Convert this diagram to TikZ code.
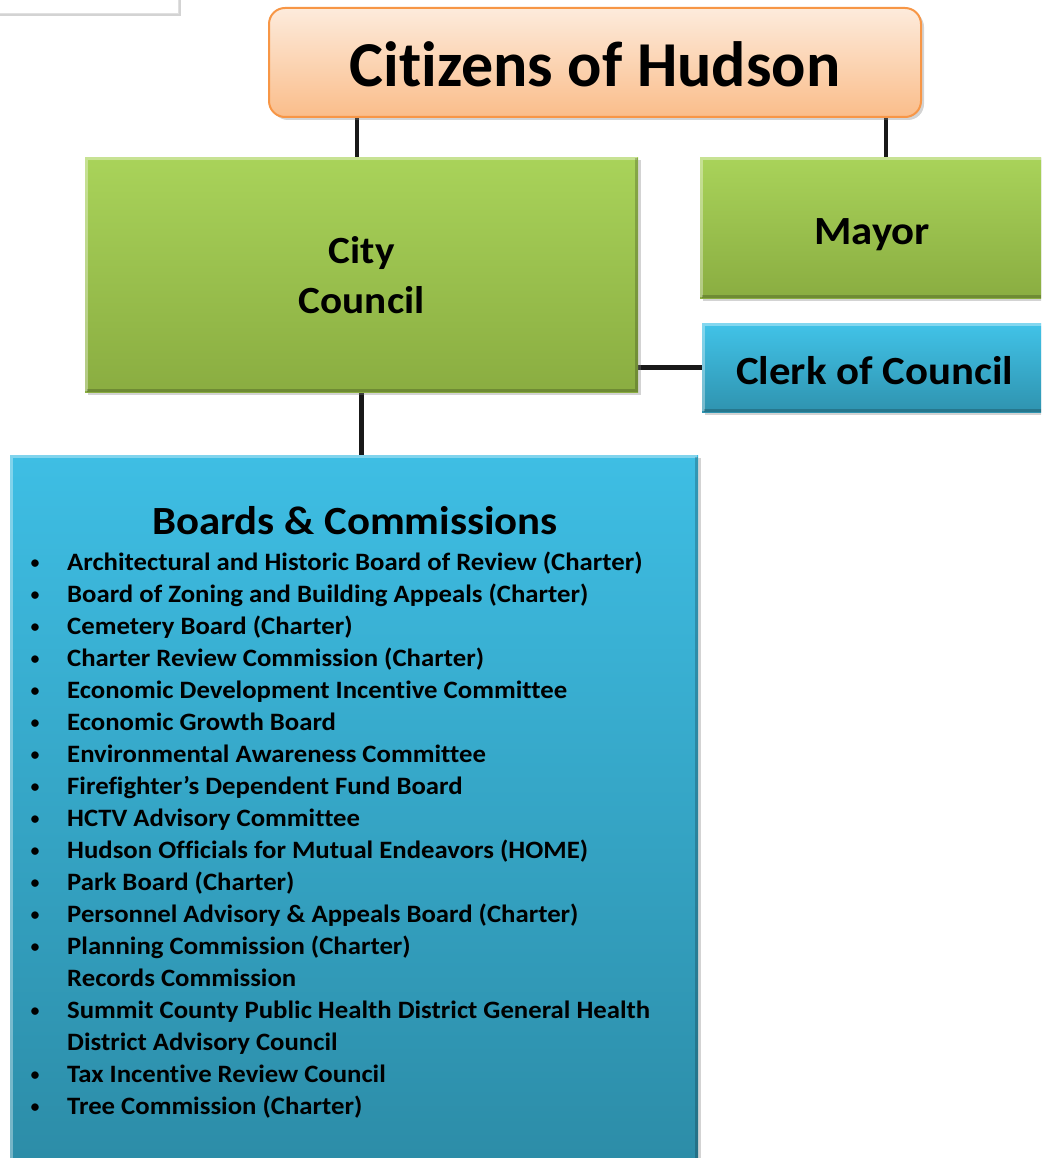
\documentclass[tikz,border=0pt]{standalone}
\usepackage{fontspec}
\setmainfont{Carlito}[Ligatures=NoCommon]
\newfontfamily\widefont{Carlito}[FakeStretch=1.07, Ligatures=NoCommon]
\usetikzlibrary{shadows, backgrounds}
\definecolor{orangetop}{HTML}{FDEBDC}
\definecolor{orangebot}{HTML}{FABD8A}
\definecolor{orangeline}{HTML}{F79646}
\definecolor{greentop}{HTML}{A9D35A}
\definecolor{greenbot}{HTML}{8AAD41}
\definecolor{bluetop}{HTML}{41C3E8}
\definecolor{bluebot}{HTML}{2F93AF}
\definecolor{boardtop}{HTML}{3EBEE4}
\definecolor{bluedeep}{HTML}{2C8CA7}

\tikzset{
  box/.style={rectangle, anchor=north west, inner sep=0pt, align=center,
    font=\bfseries, text=black,
    drop shadow={opacity=0.35, shadow xshift=3pt, shadow yshift=-3pt}},
  greenbox/.style={box, top color=greentop, bottom color=greenbot},
  bluebox/.style={box, top color=bluetop, bottom color=bluebot},
  link/.style={line width=4.5pt, black!90},
  item/.style={anchor=base west, inner sep=0pt, font=\widefont\fontsize{25}{30}\selectfont\bfseries},
  bulletmark/.style={anchor=base, inner sep=0pt, font=\fontsize{21}{25}\selectfont}
}

% light top/left edge and dark bottom/right edge on a box
\newcommand{\bevel}[1]{%
  \draw[white, opacity=0.35, line width=3pt]
    ([shift={(1.5pt,1.5pt)}]#1.south west) -- ([shift={(1.5pt,-1.5pt)}]#1.north west)
    -- ([shift={(-1.5pt,-1.5pt)}]#1.north east);
  \draw[black, opacity=0.2, line width=3pt]
    ([shift={(1.5pt,1.5pt)}]#1.south west) -- ([shift={(-1.5pt,1.5pt)}]#1.south east)
    -- ([shift={(-1.5pt,-1.5pt)}]#1.north east);
}

\begin{document}
\begin{tikzpicture}[x=1pt, y=-1pt]
  \useasboundingbox (0,0) rectangle (1041,1158);
  \clip (0,0) rectangle (1041,1158);

  % --- cut-off panel, top left ---
  \node[box, fill=white, draw=black!12, minimum width=198pt, minimum height=33pt] (panel) at (-20,-20) {};

  % --- top of the chart ---
  \node[box, rounded corners=16pt, draw=orangeline, line width=2pt,
        top color=orangetop, bottom color=orangebot,
        minimum width=652pt, minimum height=109pt, text height=49pt, text depth=0pt,
        font=\fontsize{64}{70}\selectfont\bfseries] (citizens) at (268,7) {Citizens of Hudson};

  % --- council and mayor ---
  \node[greenbox, minimum width=553pt, minimum height=235pt,
        font=\widefont\fontsize{38.5}{50}\selectfont\bfseries] (council) at (85,157) {City\\Council};
  \bevel{council}
  \node[greenbox, minimum width=344pt, minimum height=141pt, text height=33pt, text depth=0pt,
        font=\widefont\fontsize{40}{48}\selectfont\bfseries] (mayor) at (700,157) {Mayor};
  \bevel{mayor}
  \node[bluebox, minimum width=345pt, minimum height=89pt, text height=33pt, text depth=0pt,
        font=\widefont\fontsize{40}{48}\selectfont\bfseries] (clerk) at (702,323) {Clerk of Council};
  \bevel{clerk}

  % --- boards & commissions ---
  \node[box, top color=boardtop, bottom color=bluedeep,
        minimum width=688pt, minimum height=715pt] (boards) at (10,455) {};
  \bevel{boards}
  \node[font=\widefont\fontsize{40}{44}\selectfont\bfseries, inner sep=0pt] (bctitle) at (355,521) {Boards \& Commissions};

  \foreach \b/\txt [count=\i from 0] in {
      1/{Architectural and Historic Board of Review (Charter)},
      1/{Board of Zoning and Building Appeals (Charter)},
      1/{Cemetery Board (Charter)},
      1/{Charter Review Commission (Charter)},
      1/{Economic Development Incentive Committee},
      1/{Economic Growth Board},
      1/{Environmental Awareness Committee},
      1/{Firefighter’s Dependent Fund Board},
      1/{HCTV Advisory Committee},
      1/{Hudson Officials for Mutual Endeavors (HOME)},
      1/{Park Board (Charter)},
      1/{Personnel Advisory \& Appeals Board (Charter)},
      1/{Planning Commission (Charter)},
      0/{Records Commission},
      1/{Summit County Public Health District General Health},
      0/{District Advisory Council},
      1/{Tax Incentive Review Council},
      1/{Tree Commission (Charter)}} {
    \node[item] (item\i) at (67,570+32*\i) {\txt};
    \ifnum\b=1 \node[bulletmark] (dot\i) at (35,569+32*\i) {•}; \fi
  }

  % --- connectors ---
  \begin{scope}[on background layer]
    \draw[link] ([xshift=-4.5pt]council.north) -- ([xshift=-4.5pt]council.north |- citizens.south);
    \draw[link] ([xshift=14pt]mayor.north) -- ([xshift=14pt]mayor.north |- citizens.south);
    \draw[link] (council.south) -- (council.south |- boards.north);
    \draw[link] (clerk.west) -- (clerk.west -| council.east);
  \end{scope}
\end{tikzpicture}
\end{document}
